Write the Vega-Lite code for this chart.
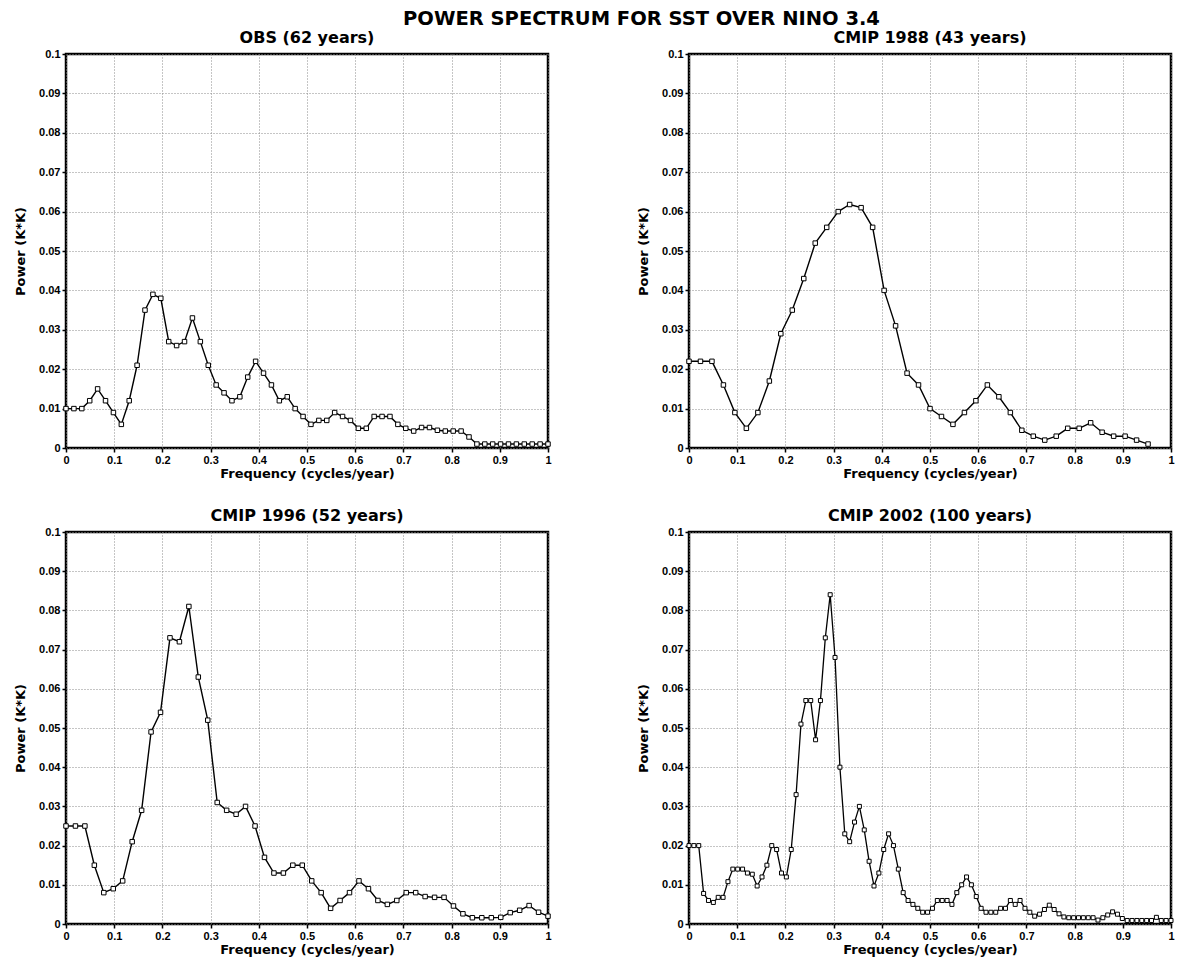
{
  "$schema": "https://vega.github.io/schema/vega-lite/v6.json",
  "background": "white",
  "padding": {"left": 12, "top": 9, "right": 5, "bottom": 2},
  "title": {"text": "POWER SPECTRUM FOR SST OVER NINO 3.4", "font": "DejaVu Sans", "fontWeight": "bold", "fontSize": 19.5, "color": "black", "anchor": "middle", "dx": 47, "offset": -1},
  "datasets": {
    "obs": [
      {"f":0,"p":0.010},{"f":0.0164,"p":0.010},{"f":0.0328,"p":0.010},{"f":0.0492,"p":0.012},{"f":0.0656,"p":0.015},{"f":0.0820,"p":0.012},{"f":0.0984,"p":0.009},{"f":0.1148,"p":0.006},{"f":0.1311,"p":0.012},{"f":0.1475,"p":0.021},
      {"f":0.1639,"p":0.035},{"f":0.1803,"p":0.039},{"f":0.1967,"p":0.038},{"f":0.2131,"p":0.027},{"f":0.2295,"p":0.026},{"f":0.2459,"p":0.027},{"f":0.2623,"p":0.033},{"f":0.2787,"p":0.027},{"f":0.2951,"p":0.021},{"f":0.3115,"p":0.016},
      {"f":0.3279,"p":0.014},{"f":0.3443,"p":0.012},{"f":0.3607,"p":0.013},{"f":0.3770,"p":0.018},{"f":0.3934,"p":0.022},{"f":0.4098,"p":0.019},{"f":0.4262,"p":0.016},{"f":0.4426,"p":0.012},{"f":0.4590,"p":0.013},{"f":0.4754,"p":0.010},
      {"f":0.4918,"p":0.008},{"f":0.5082,"p":0.006},{"f":0.5246,"p":0.007},{"f":0.5410,"p":0.007},{"f":0.5574,"p":0.009},{"f":0.5738,"p":0.008},{"f":0.5902,"p":0.007},{"f":0.6066,"p":0.005},{"f":0.6230,"p":0.005},{"f":0.6393,"p":0.008},
      {"f":0.6557,"p":0.008},{"f":0.6721,"p":0.008},{"f":0.6885,"p":0.006},{"f":0.7049,"p":0.005},{"f":0.7213,"p":0.0043},{"f":0.7377,"p":0.0052},{"f":0.7541,"p":0.0052},{"f":0.7705,"p":0.0045},{"f":0.7869,"p":0.0043},{"f":0.8033,"p":0.0043},
      {"f":0.8197,"p":0.0043},{"f":0.8361,"p":0.0028},{"f":0.8525,"p":0.001},{"f":0.8689,"p":0.001},{"f":0.8852,"p":0.001},{"f":0.9016,"p":0.001},{"f":0.9180,"p":0.001},{"f":0.9344,"p":0.001},{"f":0.9508,"p":0.001},{"f":0.9672,"p":0.001},
      {"f":0.9836,"p":0.001},{"f":1.0,"p":0.001}
    ],
    "c1988": [
      {"f":0,"p":0.022},{"f":0.0238,"p":0.022},{"f":0.0476,"p":0.022},{"f":0.0714,"p":0.016},{"f":0.0952,"p":0.009},{"f":0.1190,"p":0.005},{"f":0.1429,"p":0.009},{"f":0.1667,"p":0.017},{"f":0.1905,"p":0.029},{"f":0.2143,"p":0.035},
      {"f":0.2381,"p":0.043},{"f":0.2619,"p":0.052},{"f":0.2857,"p":0.056},{"f":0.3095,"p":0.060},{"f":0.3333,"p":0.0618},{"f":0.3571,"p":0.061},{"f":0.3810,"p":0.056},{"f":0.4048,"p":0.040},{"f":0.4286,"p":0.031},{"f":0.4524,"p":0.019},
      {"f":0.4762,"p":0.016},{"f":0.5,"p":0.010},{"f":0.5238,"p":0.008},{"f":0.5476,"p":0.006},{"f":0.5714,"p":0.009},{"f":0.5952,"p":0.012},{"f":0.6190,"p":0.016},{"f":0.6429,"p":0.013},{"f":0.6667,"p":0.009},{"f":0.6905,"p":0.0045},
      {"f":0.7143,"p":0.003},{"f":0.7381,"p":0.002},{"f":0.7619,"p":0.003},{"f":0.7857,"p":0.005},{"f":0.8095,"p":0.005},{"f":0.8333,"p":0.0064},{"f":0.8571,"p":0.004},{"f":0.8810,"p":0.003},{"f":0.9048,"p":0.003},{"f":0.9286,"p":0.002},
      {"f":0.9524,"p":0.001}
    ],
    "c1996": [
      {"f":0,"p":0.025},{"f":0.0196,"p":0.025},{"f":0.0392,"p":0.025},{"f":0.0588,"p":0.015},{"f":0.0784,"p":0.008},{"f":0.0980,"p":0.009},{"f":0.1176,"p":0.011},{"f":0.1373,"p":0.021},{"f":0.1569,"p":0.029},{"f":0.1765,"p":0.049},
      {"f":0.1961,"p":0.054},{"f":0.2157,"p":0.073},{"f":0.2353,"p":0.072},{"f":0.2549,"p":0.081},{"f":0.2745,"p":0.063},{"f":0.2941,"p":0.052},{"f":0.3137,"p":0.031},{"f":0.3333,"p":0.029},{"f":0.3529,"p":0.028},{"f":0.3725,"p":0.030},
      {"f":0.3922,"p":0.025},{"f":0.4118,"p":0.017},{"f":0.4314,"p":0.013},{"f":0.4510,"p":0.013},{"f":0.4706,"p":0.015},{"f":0.4902,"p":0.015},{"f":0.5098,"p":0.011},{"f":0.5294,"p":0.008},{"f":0.5490,"p":0.004},{"f":0.5686,"p":0.006},
      {"f":0.5882,"p":0.008},{"f":0.6078,"p":0.011},{"f":0.6275,"p":0.009},{"f":0.6471,"p":0.006},{"f":0.6667,"p":0.005},{"f":0.6863,"p":0.006},{"f":0.7059,"p":0.008},{"f":0.7255,"p":0.008},{"f":0.7451,"p":0.007},{"f":0.7647,"p":0.0068},
      {"f":0.7843,"p":0.0068},{"f":0.8039,"p":0.0046},{"f":0.8235,"p":0.0026},{"f":0.8431,"p":0.0016},{"f":0.8627,"p":0.0016},{"f":0.8824,"p":0.0016},{"f":0.9020,"p":0.0017},{"f":0.9216,"p":0.0029},{"f":0.9412,"p":0.0035},{"f":0.9608,"p":0.0047},
      {"f":0.9804,"p":0.003},{"f":1.0,"p":0.002}
    ],
    "c2002": [
      {"f":0,"p":0.020},{"f":0.0101,"p":0.020},{"f":0.0202,"p":0.020},{"f":0.0303,"p":0.0078},{"f":0.0404,"p":0.006},{"f":0.0505,"p":0.0055},{"f":0.0606,"p":0.0068},{"f":0.0707,"p":0.0068},{"f":0.0808,"p":0.0108},{"f":0.0909,"p":0.014},
      {"f":0.1010,"p":0.014},{"f":0.1111,"p":0.014},{"f":0.1212,"p":0.013},{"f":0.1313,"p":0.0127},{"f":0.1414,"p":0.0097},{"f":0.1515,"p":0.012},{"f":0.1616,"p":0.015},{"f":0.1717,"p":0.020},{"f":0.1818,"p":0.019},{"f":0.1919,"p":0.013},
      {"f":0.2020,"p":0.012},{"f":0.2121,"p":0.019},{"f":0.2222,"p":0.033},{"f":0.2323,"p":0.051},{"f":0.2424,"p":0.057},{"f":0.2525,"p":0.057},{"f":0.2626,"p":0.047},{"f":0.2727,"p":0.057},{"f":0.2828,"p":0.073},{"f":0.2929,"p":0.084},
      {"f":0.3030,"p":0.068},{"f":0.3131,"p":0.040},{"f":0.3232,"p":0.023},{"f":0.3333,"p":0.021},{"f":0.3434,"p":0.026},{"f":0.3535,"p":0.030},{"f":0.3636,"p":0.024},{"f":0.3737,"p":0.016},{"f":0.3838,"p":0.0097},{"f":0.3939,"p":0.013},
      {"f":0.4040,"p":0.019},{"f":0.4141,"p":0.023},{"f":0.4242,"p":0.020},{"f":0.4343,"p":0.014},{"f":0.4444,"p":0.008},{"f":0.4545,"p":0.006},{"f":0.4646,"p":0.005},{"f":0.4747,"p":0.004},{"f":0.4848,"p":0.003},{"f":0.4949,"p":0.003},
      {"f":0.5051,"p":0.004},{"f":0.5152,"p":0.006},{"f":0.5253,"p":0.006},{"f":0.5354,"p":0.006},{"f":0.5455,"p":0.005},{"f":0.5556,"p":0.008},{"f":0.5657,"p":0.010},{"f":0.5758,"p":0.012},{"f":0.5859,"p":0.010},{"f":0.5960,"p":0.007},
      {"f":0.6061,"p":0.004},{"f":0.6162,"p":0.003},{"f":0.6263,"p":0.003},{"f":0.6364,"p":0.003},{"f":0.6465,"p":0.004},{"f":0.6566,"p":0.004},{"f":0.6667,"p":0.006},{"f":0.6768,"p":0.005},{"f":0.6869,"p":0.006},{"f":0.6970,"p":0.004},
      {"f":0.7071,"p":0.003},{"f":0.7172,"p":0.002},{"f":0.7273,"p":0.0025},{"f":0.7374,"p":0.0037},{"f":0.7475,"p":0.0048},{"f":0.7576,"p":0.0037},{"f":0.7677,"p":0.0026},{"f":0.7778,"p":0.0018},{"f":0.7879,"p":0.0016},{"f":0.7980,"p":0.0016},
      {"f":0.8081,"p":0.0016},{"f":0.8182,"p":0.0016},{"f":0.8283,"p":0.0016},{"f":0.8384,"p":0.0016},{"f":0.8485,"p":0.001},{"f":0.8586,"p":0.0016},{"f":0.8687,"p":0.0023},{"f":0.8788,"p":0.0031},{"f":0.8889,"p":0.0025},{"f":0.8990,"p":0.0014},
      {"f":0.9091,"p":0.0009},{"f":0.9192,"p":0.0009},{"f":0.9293,"p":0.0009},{"f":0.9394,"p":0.0009},{"f":0.9495,"p":0.0009},{"f":0.9596,"p":0.0009},{"f":0.9697,"p":0.0017},{"f":0.9798,"p":0.0009},{"f":0.9899,"p":0.0009},{"f":1.0,"p":0.0009}
    ]
  },
  "columns": 2,
  "spacing": {"row": 84, "column": 141},
  "bounds": "flush",
  "concat": [
    {
      "title": {"text": "OBS (62 years)", "font": "DejaVu Sans", "fontWeight": "bold", "fontSize": 16, "color": "black", "offset": 2},
      "width": 482, "height": 394,
      "data": {"name": "obs"},
      "encoding": {
        "x": {"field": "f", "type": "quantitative", "scale": {"domain": [0, 1], "nice": false}, "axis": {"title": "Frequency (cycles/year)", "values": [0,0.1,0.2,0.3,0.4,0.5,0.6,0.7,0.8,0.9,1], "format": "~g"}},
        "y": {"field": "p", "type": "quantitative", "scale": {"domain": [0, 0.1], "nice": false}, "axis": {"title": "Power (K*K)", "values": [0,0.01,0.02,0.03,0.04,0.05,0.06,0.07,0.08,0.09,0.1], "format": "~g"}}
      },
      "layer": [
        {"mark": {"type": "line", "color": "black", "strokeWidth": 1.4}},
        {"mark": {"type": "point", "shape": "square", "size": 20, "filled": true, "fill": "white", "stroke": "black", "strokeWidth": 1, "opacity": 1}}
      ]
    },
    {
      "title": {"text": "CMIP 1988 (43 years)", "font": "DejaVu Sans", "fontWeight": "bold", "fontSize": 16, "color": "black", "offset": 2},
      "width": 482, "height": 394,
      "data": {"name": "c1988"},
      "encoding": {
        "x": {"field": "f", "type": "quantitative", "scale": {"domain": [0, 1], "nice": false}, "axis": {"title": "Frequency (cycles/year)", "values": [0,0.1,0.2,0.3,0.4,0.5,0.6,0.7,0.8,0.9,1], "format": "~g"}},
        "y": {"field": "p", "type": "quantitative", "scale": {"domain": [0, 0.1], "nice": false}, "axis": {"title": "Power (K*K)", "values": [0,0.01,0.02,0.03,0.04,0.05,0.06,0.07,0.08,0.09,0.1], "format": "~g"}}
      },
      "layer": [
        {"mark": {"type": "line", "color": "black", "strokeWidth": 1.4}},
        {"mark": {"type": "point", "shape": "square", "size": 20, "filled": true, "fill": "white", "stroke": "black", "strokeWidth": 1, "opacity": 1}}
      ]
    },
    {
      "title": {"text": "CMIP 1996 (52 years)", "font": "DejaVu Sans", "fontWeight": "bold", "fontSize": 16, "color": "black", "offset": 2},
      "width": 482, "height": 392,
      "data": {"name": "c1996"},
      "encoding": {
        "x": {"field": "f", "type": "quantitative", "scale": {"domain": [0, 1], "nice": false}, "axis": {"title": "Frequency (cycles/year)", "values": [0,0.1,0.2,0.3,0.4,0.5,0.6,0.7,0.8,0.9,1], "format": "~g"}},
        "y": {"field": "p", "type": "quantitative", "scale": {"domain": [0, 0.1], "nice": false}, "axis": {"title": "Power (K*K)", "values": [0,0.01,0.02,0.03,0.04,0.05,0.06,0.07,0.08,0.09,0.1], "format": "~g"}}
      },
      "layer": [
        {"mark": {"type": "line", "color": "black", "strokeWidth": 1.4}},
        {"mark": {"type": "point", "shape": "square", "size": 20, "filled": true, "fill": "white", "stroke": "black", "strokeWidth": 1, "opacity": 1}}
      ]
    },
    {
      "title": {"text": "CMIP 2002 (100 years)", "font": "DejaVu Sans", "fontWeight": "bold", "fontSize": 16, "color": "black", "offset": 2},
      "width": 482, "height": 392,
      "data": {"name": "c2002"},
      "encoding": {
        "x": {"field": "f", "type": "quantitative", "scale": {"domain": [0, 1], "nice": false}, "axis": {"title": "Frequency (cycles/year)", "values": [0,0.1,0.2,0.3,0.4,0.5,0.6,0.7,0.8,0.9,1], "format": "~g"}},
        "y": {"field": "p", "type": "quantitative", "scale": {"domain": [0, 0.1], "nice": false}, "axis": {"title": "Power (K*K)", "values": [0,0.01,0.02,0.03,0.04,0.05,0.06,0.07,0.08,0.09,0.1], "format": "~g"}}
      },
      "layer": [
        {"mark": {"type": "line", "color": "black", "strokeWidth": 1.3}},
        {"mark": {"type": "point", "shape": "square", "size": 16, "filled": true, "fill": "white", "stroke": "black", "strokeWidth": 1, "opacity": 1}}
      ]
    }
  ],
  "config": {
    "view": {"stroke": "black", "strokeWidth": 2.5},
    "axis": {
      "grid": true, "gridColor": "#8a8a8a", "gridDash": [1, 2], "gridWidth": 1,
      "domain": false, "ticks": true, "tickColor": "black", "tickSize": 4, "tickWidth": 1.5,
      "labelFont": "Liberation Sans", "labelFontWeight": "bold", "labelFontSize": 11, "labelColor": "black", "labelPadding": 2,
      "titleFont": "DejaVu Sans", "titleFontWeight": "bold", "titleFontSize": 13, "titleColor": "black"
    },
    "axisX": {"titlePadding": 2, "labelFlush": false},
    "axisY": {"titleX": -46, "titleBaseline": "middle", "labelFlush": false}
  }
}
